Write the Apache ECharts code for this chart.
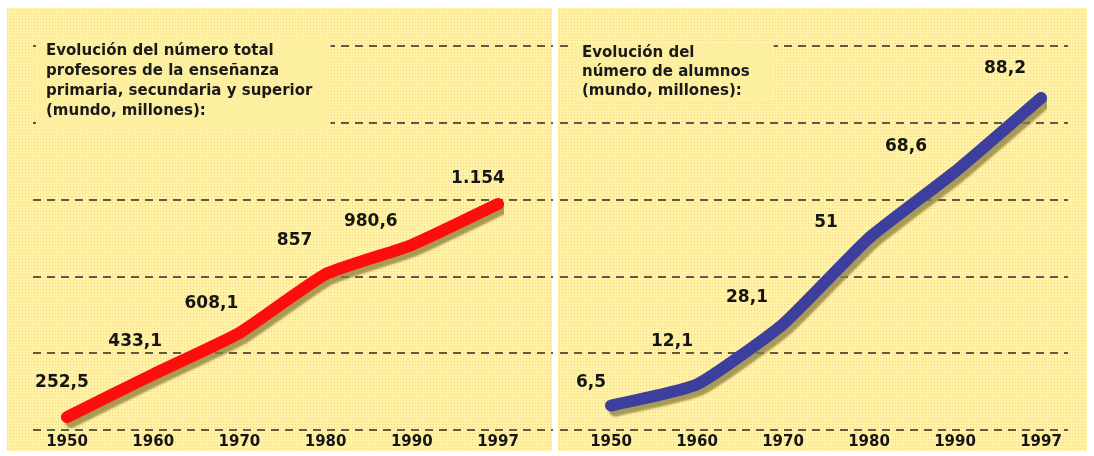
<!DOCTYPE html>
<html>
<head>
<meta charset="utf-8">
<script src="https://cdn.jsdelivr.net/npm/echarts@6/dist/echarts.min.js"></script>
<style>
html,body{margin:0;padding:0;background:#fff;}
#chart{width:1094px;height:456px;}
</style>
</head>
<body>
<div id="chart"></div>
<script>
// ---- data ----
const years = ['1950', '1960', '1970', '1980', '1990', '1997'];
const profesores = [252.5, 433.1, 608.1, 857, 980.6, 1154];   // millones
const alumnos = [6.5, 12.1, 28.1, 51, 68.6, 88.2];             // millones
const titleProfesores = 'Evolución del número total\nprofesores de la enseñanza\nprimaria, secundaria y superior\n(mundo, millones):';
const titleAlumnos = 'Evolución del\nnúmero de alumnos\n(mundo, millones):';

// ---- layout (label nudges, not data) ----
const profLabelNudge = [[-5, -20], [-18, -19], [-28, -15], [-31, -20], [-41, -9], [-20, -11]];
const alumLabelNudge = [[-20, -9], [-25, -29], [-36, -13], [-43, -1], [-49, -11], [-36, -15]];

function fmt(v) {
  if (v >= 1000) {
    const s = String(Math.round(v));
    return s.slice(0, s.length - 3) + '.' + s.slice(s.length - 3);
  }
  return String(v).replace('.', ',');
}

// dotted newsprint-like panel texture
const pat = document.createElement('canvas');
pat.width = 3; pat.height = 3;
const pc = pat.getContext('2d');
pc.fillStyle = '#fff2a0'; pc.fillRect(0, 0, 3, 3);
pc.fillStyle = '#f4cda2'; pc.fillRect(1, 1, 1, 1);
const panelFill = { image: pat, repeat: 'repeat' };
const panelBg = '#fdefa0';

const FONT = '"DejaVu Sans", "Open Sans", sans-serif';
const gridDash = { color: '#2a2a2a', width: 1.6, type: [8, 6] };

function decorY(gi) {
  return {
    gridIndex: gi, type: 'value', min: 0, max: 5, interval: 1,
    axisLine: { show: false }, axisTick: { show: false }, axisLabel: { show: false },
    splitLine: { show: true, lineStyle: gridDash }
  };
}
function decorX(gi) {
  return { gridIndex: gi, type: 'value', min: 0, max: 1, show: false };
}
function catX(gi) {
  return {
    gridIndex: gi, type: 'category', data: years, boundaryGap: false,
    axisLine: { show: false }, axisTick: { show: false }, splitLine: { show: false },
    axisLabel: { margin: 5, color: '#151515', fontWeight: 'bold', fontSize: 15, fontFamily: FONT }
  };
}
function lineSeries(xi, yi, vals, nudge, color) {
  return {
    type: 'line', xAxisIndex: xi, yAxisIndex: yi, smooth: 0.15,
    symbol: 'circle', symbolSize: 1, showSymbol: true, z: 5,
    itemStyle: { color: color },
    data: vals.map((v, i) => ({ value: v, label: { offset: nudge[i] } })),
    lineStyle: {
      color: color, width: 12, cap: 'round', join: 'round',
      shadowColor: 'rgba(140,125,60,0.75)', shadowBlur: 2, shadowOffsetX: 4, shadowOffsetY: 5
    },
    label: {
      show: true, position: 'top', distance: 5, formatter: p => fmt(p.value),
      color: '#151515', fontWeight: 'bold', fontSize: 17, fontFamily: FONT
    }
  };
}

const chart = echarts.init(document.getElementById('chart'), null, { renderer: 'canvas' });
chart.setOption({
  animation: false,
  backgroundColor: '#ffffff',
  graphic: [
    { type: 'rect', z: -10, shape: { x: 7, y: 8, width: 545, height: 443 }, style: { fill: panelFill } },
    { type: 'rect', z: -10, shape: { x: 558, y: 8, width: 529, height: 443 }, style: { fill: panelFill } }
  ],
  title: [
    {
      text: titleProfesores, left: 36, top: 39, padding: [2, 18, 8, 10],
      backgroundColor: panelBg,
      textStyle: { fontFamily: FONT, fontWeight: 'bold', fontSize: 15, lineHeight: 20, color: '#1a1a1a' }
    },
    {
      text: titleAlumnos, left: 572, top: 43, padding: [1, 24, 2, 10],
      backgroundColor: panelBg,
      textStyle: { fontFamily: FONT, fontWeight: 'bold', fontSize: 15, lineHeight: 19, color: '#1a1a1a' }
    }
  ],
  grid: [
    { left: 33, right: 1094 - 553, top: 46, bottom: 26 },
    { left: 67, right: 1094 - 498, top: 46, bottom: 26 },
    { left: 560, right: 1094 - 1068, top: 46, bottom: 26 },
    { left: 611, right: 1094 - 1041, top: 46, bottom: 26 }
  ],
  xAxis: [decorX(0), catX(1), decorX(2), catX(3)],
  yAxis: [
    decorY(0),
    { gridIndex: 1, type: 'value', min: 197.5, max: 1822.5, show: false },
    decorY(2),
    { gridIndex: 3, type: 'value', min: 0, max: 102, show: false }
  ],
  series: [
    lineSeries(1, 1, profesores, profLabelNudge, '#ff0d0d'),
    lineSeries(3, 3, alumnos, alumLabelNudge, '#3d3f9f')
  ]
});
</script>
</body>
</html>
